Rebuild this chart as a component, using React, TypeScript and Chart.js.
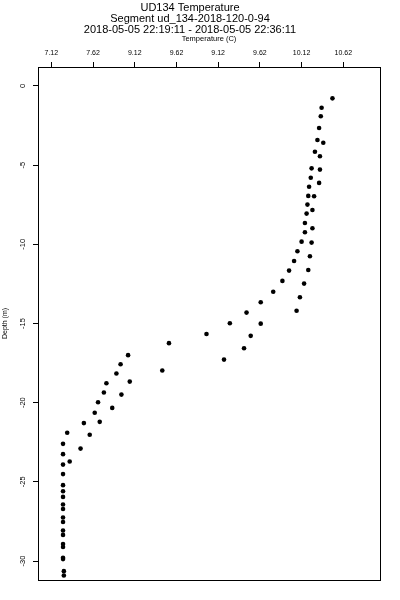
import React, { useEffect, useRef } from "react";
import { Chart, registerables } from "chart.js";

Chart.register(...registerables);

const titleLines = [
  "UD134 Temperature",
  "Segment ud_134-2018-120-0-94",
  "2018-05-05 22:19:11 - 2018-05-05 22:36:11",
];
const xAxisTitle = "Temperature (C)";
const yAxisTitle = "Depth (m)";

// Tick positions and the (as printed) tick labels on the top axis
const xTickValues = [7.12, 7.62, 8.12, 8.62, 9.12, 9.62, 10.12, 10.62];
const xTickLabels = ["7.12", "7.62", "9.12", "9.62", "9.12", "9.62", "10.12", "10.62"];
const yTickValues = [0, -5, -10, -15, -20, -25, -30];

const temperatures = [
  10.49, 10.36, 10.35, 10.33, 10.31, 10.38, 10.28, 10.34, 10.24, 10.34,
  10.23, 10.33, 10.21, 10.2, 10.27, 10.19, 10.25, 10.18, 10.16, 10.25,
  10.16, 10.12, 10.24, 10.07, 10.22, 10.03, 9.97, 10.2, 9.89, 10.15,
  9.78, 10.1, 9.63, 10.06, 9.46, 9.26, 9.63, 8.98, 9.51, 9.43,
  8.53, 9.19, 8.04, 7.95, 8.45, 7.9, 8.06, 7.78, 7.75, 7.96,
  7.68, 7.85, 7.64, 7.7, 7.51, 7.31, 7.58, 7.26, 7.47, 7.26,
  7.34, 7.26, 7.26, 7.26, 7.26, 7.26, 7.26, 7.26, 7.26, 7.26,
  7.26, 7.26, 7.26, 7.26, 7.26, 7.26, 7.27, 7.27,
];
const depths = [
  -0.78, -1.37, -1.91, -2.65, -3.41, -3.58, -4.15, -4.44, -5.2, -5.28,
  -5.79, -6.12, -6.36, -6.94, -6.96, -7.49, -7.83, -8.06, -8.65, -8.98,
  -9.24, -9.83, -9.89, -10.44, -10.75, -11.05, -11.66, -11.62, -12.31, -12.48,
  -12.99, -13.34, -13.66, -14.19, -14.31, -14.98, -15.01, -15.66, -15.78, -16.56,
  -16.24, -17.28, -17.0, -17.57, -17.97, -18.16, -18.67, -18.77, -19.36, -19.49,
  -19.97, -20.33, -20.64, -21.21, -21.29, -21.9, -22.03, -22.6, -22.9, -23.25,
  -23.72, -23.91, -24.51, -25.21, -25.59, -25.95, -26.43, -26.72, -27.25, -27.54,
  -28.07, -28.35, -28.93, -29.12, -29.8, -29.88, -30.64, -30.92,
];

const FONT = "'Liberation Sans', Arial, Helvetica, sans-serif";

const boxPlugin = {
  id: "boxPlugin",
  afterDraw(chart: any) {
    const { ctx, chartArea } = chart;
    ctx.save();
    ctx.strokeStyle = "#000";
    ctx.lineWidth = 1;
    const l = Math.round(chartArea.left) + 0.5;
    const t = Math.round(chartArea.top) + 0.5;
    const r = Math.round(chartArea.right) + 0.5;
    const b = Math.round(chartArea.bottom) + 0.5;
    ctx.strokeRect(l, t, r - l, b - t);
    ctx.restore();
  },
};

export default function App() {
  const ref = useRef<HTMLCanvasElement | null>(null);

  useEffect(() => {
    if (!ref.current) return;
    const points = temperatures.map((t, i) => ({ x: t, y: depths[i] }));
    const chart = new Chart(ref.current, {
      type: "scatter",
      data: {
        datasets: [
          {
            data: points,
            backgroundColor: "#000",
            borderColor: "#000",
            borderWidth: 0,
            pointRadius: 2.3,
            pointHoverRadius: 2.3,
          },
        ],
      },
      plugins: [boxPlugin],
      options: {
        animation: false,
        responsive: false,
        devicePixelRatio: 1,
        layout: { padding: { top: 0, left: 0, right: 20, bottom: 20 } },
        plugins: {
          legend: { display: false },
          tooltip: { enabled: false },
          title: {
            display: true,
            text: titleLines,
            color: "#000",
            font: { family: FONT, size: 11, weight: "normal", lineHeight: 1.0 },
            padding: { top: 2.3, bottom: 0 },
          },
        },
        scales: {
          x: {
            type: "linear",
            position: "top",
            min: 6.96,
            max: 11.06,
            afterFit: (scale: any) => {
              scale.height = 31.7;
            },
            afterBuildTicks: (scale: any) => {
              scale.ticks = xTickValues.map((v) => ({ value: v }));
            },
            ticks: {
              color: "#000",
              font: { family: FONT, size: 7 },
              padding: 4.5,
              maxRotation: 0,
              minRotation: 0,
              autoSkip: false,
              callback: (_v: any, i: number) => xTickLabels[i],
            },
            grid: {
              drawOnChartArea: false,
              drawTicks: true,
              tickLength: 5,
              tickColor: "#000",
              tickWidth: 1,
            },
            border: { display: true, color: "#000", width: 1 },
            title: {
              display: true,
              text: xAxisTitle,
              color: "#000",
              font: { family: FONT, size: 7.5, lineHeight: 1.0 },
              padding: { top: 0, bottom: 0 },
            },
          },
          y: {
            type: "linear",
            position: "left",
            min: -31.2,
            max: 1.2,
            afterFit: (scale: any) => {
              scale.width = 38;
            },
            afterBuildTicks: (scale: any) => {
              scale.ticks = yTickValues.map((v) => ({ value: v }));
            },
            ticks: {
              color: "#000",
              font: { family: FONT, size: 7.5 },
              padding: 4.5,
              minRotation: 90,
              maxRotation: 90,
              crossAlign: "center",
              autoSkip: false,
              includeBounds: false,
            },
            grid: {
              drawOnChartArea: false,
              drawTicks: true,
              tickLength: 5,
              tickColor: "#000",
              tickWidth: 1,
            },
            border: { display: true, color: "#000", width: 1 },
            title: {
              display: true,
              text: yAxisTitle,
              color: "#000",
              font: { family: FONT, size: 7 },
              padding: { top: 1.3, bottom: 0 },
            },
          },
        },
      } as any,
    });
    return () => chart.destroy();
  }, []);

  return (
    <div style={{ position: "fixed", left: 0, top: 0, width: 400, height: 600, background: "#fff" }}>
      <canvas ref={ref} width={400} height={600} style={{ display: "block", width: 400, height: 600 }} />
    </div>
  );
}
